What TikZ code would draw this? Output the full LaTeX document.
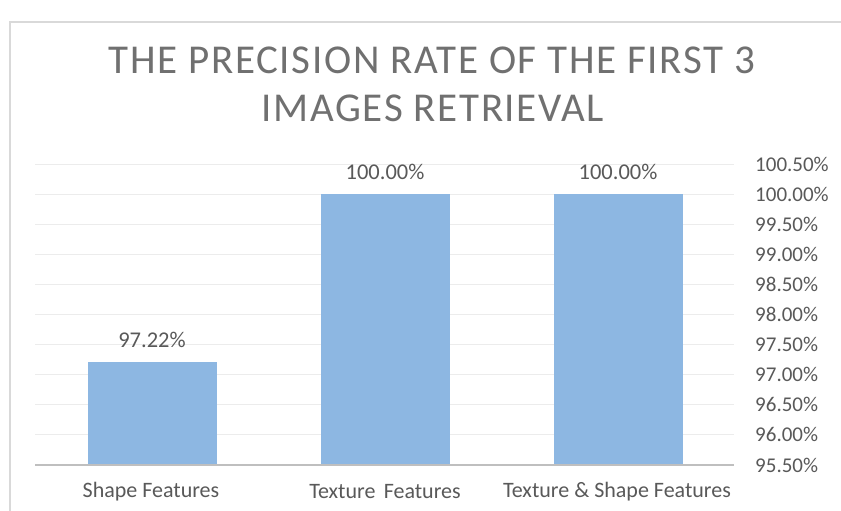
\documentclass[tikz,border=0pt]{standalone}
\usepackage{fontspec}
\setmainfont{Carlito}
\newfontfamily\titlefont[LetterSpace=4]{Carlito}
\definecolor{barblue}{RGB}{141,183,226}
\definecolor{txtgray}{RGB}{89,89,89}
\definecolor{titlegray}{RGB}{112,112,112}
\definecolor{gridgray}{RGB}{236,236,236}
\definecolor{axisgray}{RGB}{191,191,191}
\definecolor{framegray}{RGB}{217,217,217}
\begin{document}
\begin{tikzpicture}[x=1pt,y=-1pt,
  bar/.style={fill=barblue,draw=none},
  gridline/.style={draw=gridgray,line width=1pt},
  axisline/.style={draw=axisgray,line width=1.6pt},
  frameline/.style={draw=framegray,line width=1.6pt},
  ticklab/.style={anchor=west,text=txtgray,font=\fontsize{21}{24}\selectfont,inner sep=0pt},
  vallab/.style={anchor=center,text=txtgray,font=\fontsize{22.5}{26}\selectfont,inner sep=0pt},
  catlab/.style={anchor=center,text=txtgray,font=\fontsize{22}{26}\selectfont,inner sep=0pt},
  titlelab/.style={anchor=center,text=titlegray,font=\titlefont\fontsize{41}{48}\selectfont,inner sep=0pt}]
\useasboundingbox (0,0) rectangle (841,511);
\fill[white] (0,0) rectangle (841,511);
% chart frame (top and left edges)
\draw[frameline] (10,511) -- (10,22) -- (841,22);
% title
\node[titlelab] (t1) at (432,60) {THE PRECISION RATE OF THE FIRST 3};
\node[titlelab] (t2) at (433,108) {IMAGES RETRIEVAL};
% gridlines and right-hand tick labels (95.50% .. 100.50%)
\foreach \i/\lab in {0/95.50\%,1/96.00\%,2/96.50\%,3/97.00\%,4/97.50\%,5/98.00\%,6/98.50\%,7/99.00\%,8/99.50\%,9/100.00\%,10/100.50\%}{
  \pgfmathsetmacro{\yy}{465-30.1*\i}
  \ifnum\i>0 \draw[gridline] (35,\yy) -- (734,\yy); \fi
  \node[ticklab] (tick\i) at (755,\yy) {\lab};
}
% bars
\fill[bar] (88,465) rectangle (217,361.5);
\fill[bar] (321,465) rectangle (450,194);
\fill[bar] (554,465) rectangle (683,194);
% value labels
\node[vallab] (v1) at (152,340) {97.22\%};
\node[vallab] (v2) at (385,172) {100.00\%};
\node[vallab] (v3) at (618,172) {100.00\%};
% horizontal axis
\draw[axisline] (35,465) -- (734,465);
% category labels
\node[catlab] (c1) at (151,492) {Shape Features};
\node[catlab] (c2) at (385,492) {Texture\hspace{0.15em} Features};
\node[catlab] (c3) at (617,492) {Texture \& Shape Features};
\end{tikzpicture}
\end{document}
